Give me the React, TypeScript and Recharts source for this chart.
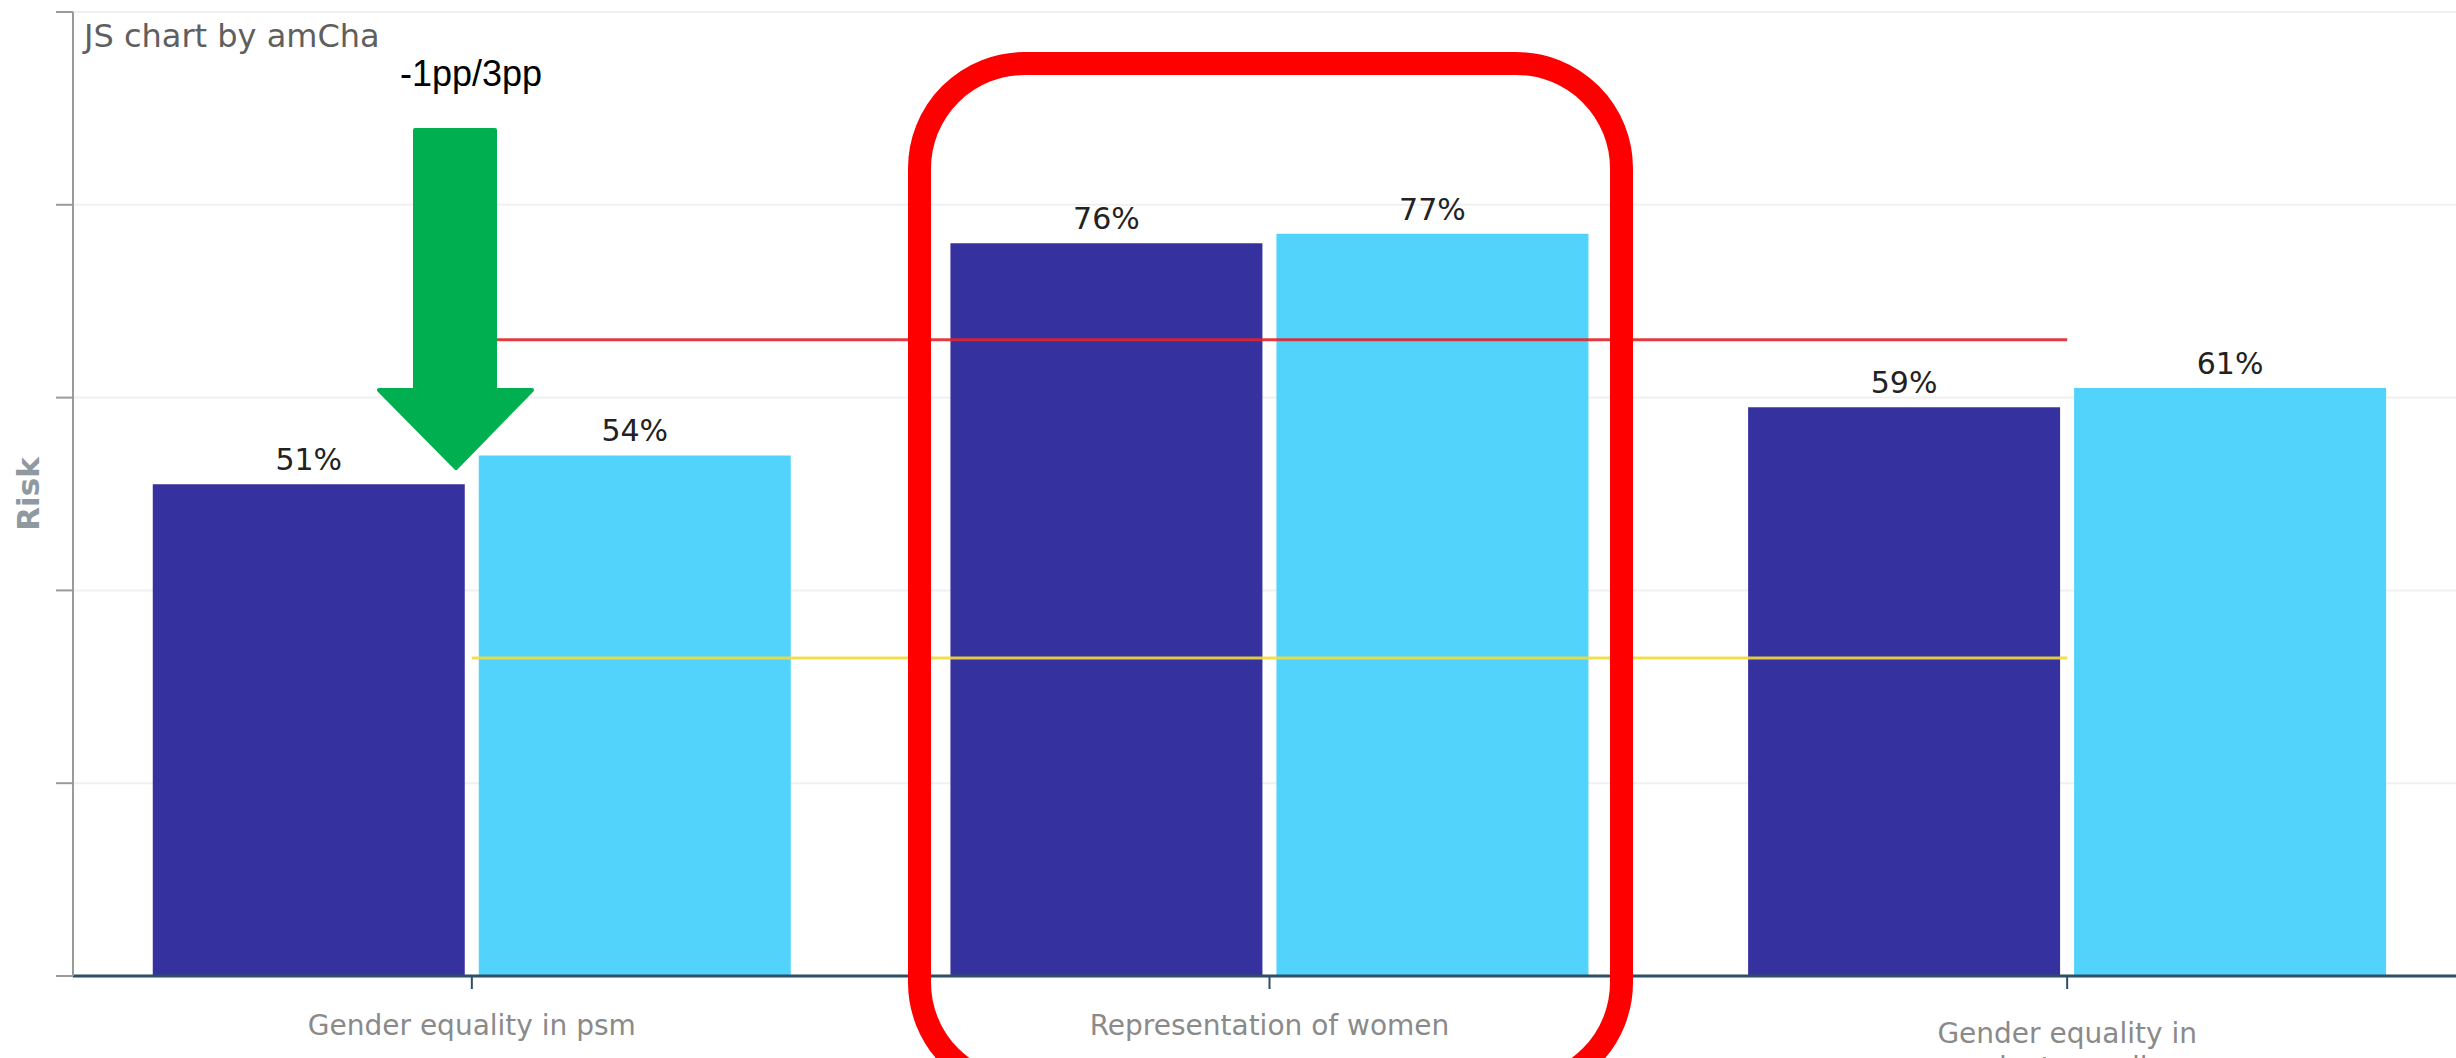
import React from "react"
import { Bar, CartesianGrid, ComposedChart, LabelList, Line, XAxis, YAxis } from "recharts"

// categories and their (wrapped) tick labels
const categories = ["Gender equality in psm", "Representation of women", "Gender equality in private media"]
const tickLines = [["Gender equality in psm"], ["Representation of women"], ["Gender equality in", "private media"]]

// series values (percent)
const previousRisk = [51, 76, 59]
const currentRisk = [54, 77, 61]
const highThreshold = [66, 66, 66]
const lowThreshold = [33, 33, 33]

const yTicks = [0, 20, 40, 60, 80, 100]

const FONT = "'DejaVu Sans', Verdana, sans-serif"

const chartData = categories.map((category, i) => ({
  category,
  previous: previousRisk[i],
  current: currentRisk[i],
  high: highThreshold[i],
  low: lowThreshold[i],
}))

function CategoryTick(props: any) {
  const { x, y, index } = props
  const lines = tickLines[index] || [props.payload.value]
  const first = lines.length > 1 ? 52 : 44
  return (
    <g>
      {lines.map((line: string, i: number) => (
        <text
          key={i}
          x={x}
          y={y + first + i * 34}
          textAnchor="middle"
          fill="#8a8a8a"
          fontSize={28}
          fontFamily={FONT}
        >
          {line}
        </text>
      ))}
    </g>
  )
}

function RiskLabel(props: any) {
  const vb = props.viewBox || { x: 0, y: 0, height: 0 }
  const cx = vb.x + 28
  const cy = vb.y + vb.height / 2
  return (
    <text
      x={cx}
      y={cy}
      transform={`rotate(-90, ${cx}, ${cy})`}
      textAnchor="middle"
      dominantBaseline="central"
      fill="#8e99a2"
      fontSize={31}
      fontWeight="bold"
      fontFamily={FONT}
    >
      Risk
    </text>
  )
}

export default function App() {
  return (
    <div
      style={{
        position: "fixed",
        top: 0,
        left: 0,
        width: 2456,
        height: 1058,
        overflow: "hidden",
        background: "#fff",
      }}
    >
      <ComposedChart
        width={2480}
        height={1100}
        data={chartData}
        margin={{ top: 12, right: 14, bottom: 0, left: 0 }}
        barCategoryGap="10%"
        barGap={14}
      >
        <CartesianGrid vertical={false} stroke="#f0f0f0" strokeWidth={2} />
        <XAxis
          dataKey="category"
          height={124}
          axisLine={{ stroke: "#2a4f66", strokeWidth: 3 }}
          tickLine={{ stroke: "#2a4f66", strokeWidth: 2 }}
          tickSize={13}
          tick={<CategoryTick />}
          interval={0}
        />
        <YAxis
          width={73}
          domain={[0, 100]}
          ticks={yTicks}
          axisLine={{ stroke: "#9a9a9a", strokeWidth: 2 }}
          tickLine={{ stroke: "#9a9a9a", strokeWidth: 2 }}
          tickSize={17}
          tick={() => <g />}
          label={<RiskLabel />}
        />
        <Bar dataKey="previous" fill="#3532a0" isAnimationActive={false}>
          <LabelList
            dataKey="previous"
            position="top"
            offset={14}
            formatter={(v: any) => `${v}%`}
            fill="#222"
            fontSize={30}
            fontFamily={FONT}
          />
        </Bar>
        <Bar dataKey="current" fill="#52d3fc" isAnimationActive={false}>
          <LabelList
            dataKey="current"
            position="top"
            offset={14}
            formatter={(v: any) => `${v}%`}
            fill="#222"
            fontSize={30}
            fontFamily={FONT}
          />
        </Bar>
        <Line
          dataKey="high"
          type="linear"
          stroke="#e0242b"
          strokeOpacity={0.9}
          strokeWidth={3}
          dot={false}
          activeDot={false}
          isAnimationActive={false}
        />
        <Line
          dataKey="low"
          type="linear"
          stroke="#f2dc3a"
          strokeOpacity={0.9}
          strokeWidth={3}
          dot={false}
          activeDot={false}
          isAnimationActive={false}
        />
      </ComposedChart>

      {/* annotations drawn on top of the screenshot */}
      <svg
        width={2456}
        height={1058}
        style={{ position: "absolute", top: 0, left: 0, pointerEvents: "none" }}
      >
        <text x={84} y={47} fill="#5f5f5f" fontSize={32} fontFamily={FONT}>
          JS chart by amCharts
        </text>
        <rect x={378} y={20} width={190} height={90} fill="#fff" />
        <text x={400} y={86} fill="#000" fontSize={36} fontFamily="'Liberation Sans', Arial, sans-serif">
          -1pp/3pp
        </text>
        <polygon
          points="415,130 495,130 495,390 532,390 456,468 379,390 415,390"
          fill="#00b050"
          stroke="#00b050"
          strokeWidth={4}
          strokeLinejoin="round"
        />
        <rect
          x={919.5}
          y={63.5}
          width={702}
          height={1024}
          rx={105}
          ry={105}
          fill="none"
          stroke="#ff0000"
          strokeWidth={23}
        />
      </svg>
    </div>
  )
}
